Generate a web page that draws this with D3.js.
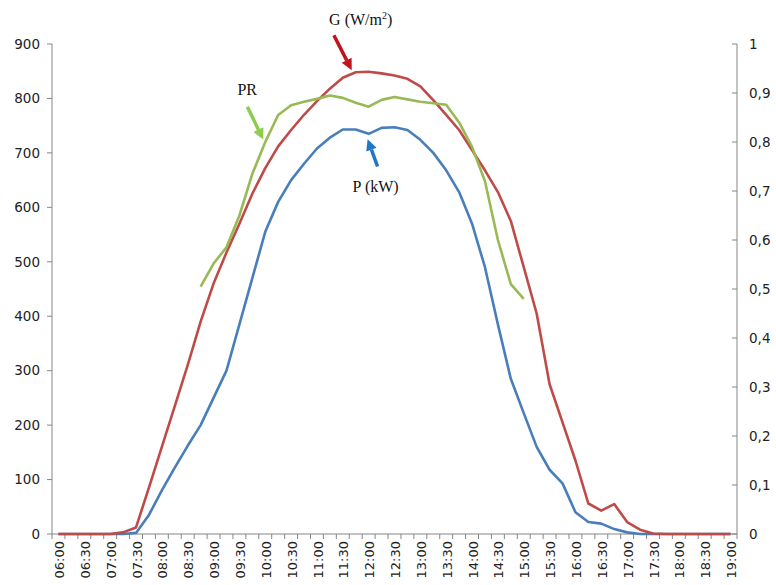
<!DOCTYPE html>
<html lang="en"><head>
<meta charset="utf-8">
<title>G, P and PR</title>
<script src="https://cdnjs.cloudflare.com/ajax/libs/d3/7.8.5/d3.min.js" charset="utf-8"></script>
<style type="text/css">
  body{
    margin:0;
    background:#fff;
  }
  .axis-text{
    font-family: "DejaVu Sans", Verdana, sans-serif;
    font-size: 13.5px;
    fill: #222;
  }
  .note{
    font-family: "Liberation Serif", "Times New Roman", serif;
    font-size: 16px;
    fill: #111;
  }
</style>
</head>
<body>
<svg class="chart" width="776" height="585"></svg>
<script>
// 15 minute steps, 06:00 .. 19:00
var times = ["06:00","06:15","06:30","06:45","07:00","07:15","07:30","07:45","08:00","08:15",
  "08:30","08:45","09:00","09:15","09:30","09:45","10:00","10:15","10:30","10:45",
  "11:00","11:15","11:30","11:45","12:00","12:15","12:30","12:45","13:00","13:15",
  "13:30","13:45","14:00","14:15","14:30","14:45","15:00","15:15","15:30","15:45",
  "16:00","16:15","16:30","16:45","17:00","17:15","17:30","17:45","18:00","18:15",
  "18:30","18:45","19:00"]

// irradiance G (W/m2), left axis
var irradiance = [0,0,0,0,0,3,12,85,160,235,
  310,390,460,517,570,625,672,712,742,770,
  795,818,838,848,849,846,842,836,822,797,
  770,742,705,668,628,575,490,405,275,205,
  135,56,43,55,22,8,1,0,0,0,
  0,0,0]

// power P (kW), left axis
var power = [0,0,0,0,0,0,2,35,80,122,
  162,200,250,300,385,470,555,610,650,680,
  708,728,743,743,735,746,747,742,724,700,
  668,628,570,490,385,285,222,160,118,93,
  40,22,19,9,3,0,0,0,0,0,
  0,0,0]

// performance ratio PR, right axis
var ratio = [null,null,null,null,null,null,null,null,null,null,
  null,0.505,0.552,0.585,0.65,0.735,0.80,0.855,0.875,0.882,
  0.888,0.895,0.89,0.88,0.872,0.886,0.892,0.887,0.882,0.879,
  0.876,0.84,0.79,0.72,0.60,0.51,0.48,null,null,null,
  null,null,null,null,null,null,null,null,null,null,
  null,null,null]

var leftTicks = [0,100,200,300,400,500,600,700,800,900]
var rightTicks = [0,0.1,0.2,0.3,0.4,0.5,0.6,0.7,0.8,0.9,1]

var svg = d3.select('.chart')
var plotLeft = 52, plotRight = 737, plotTop = 44, plotBottom = 534

var x = d3.scaleBand().domain(times).range([plotLeft, plotRight])
var yL = d3.scaleLinear().domain([0, 900]).range([plotBottom, plotTop])
var yR = d3.scaleLinear().domain([0, 1]).range([plotBottom, plotTop])
var cx = function(t){ return x(t) + x.bandwidth() / 2 }

// axes
var axisColor = "#868686"
var xAxis = svg.append("g")
xAxis.append("line")
  .attr("x1", plotLeft).attr("x2", plotRight)
  .attr("y1", plotBottom).attr("y2", plotBottom)
  .attr("stroke", axisColor)
xAxis.selectAll(".xtick")
  .data(times.concat(["end"]))
  .enter().append("line")
  .attr("x1", function(d, i){ return plotLeft + i * x.bandwidth() })
  .attr("x2", function(d, i){ return plotLeft + i * x.bandwidth() })
  .attr("y1", plotBottom).attr("y2", plotBottom + 5)
  .attr("stroke", axisColor)
xAxis.selectAll(".xlabel")
  .data(times.filter(function(d, i){ return i % 2 == 0 }))
  .enter().append("text")
  .attr("class", "axis-text")
  .attr("transform", function(d){ return "translate(" + (cx(d) + 1) + "," + (plotBottom + 7) + ") rotate(-90)" })
  .attr("text-anchor", "end")
  .attr("dy", "0.35em")
  .style("font-size", "13px")
  .text(function(d){ return d })

var lAxis = svg.append("g")
lAxis.append("line")
  .attr("x1", plotLeft).attr("x2", plotLeft)
  .attr("y1", plotTop).attr("y2", plotBottom)
  .attr("stroke", axisColor)
lAxis.selectAll(".ltick")
  .data(leftTicks)
  .enter().append("line")
  .attr("x1", plotLeft - 5).attr("x2", plotLeft)
  .attr("y1", function(d){ return yL(d) }).attr("y2", function(d){ return yL(d) })
  .attr("stroke", axisColor)
lAxis.selectAll(".llabel")
  .data(leftTicks)
  .enter().append("text")
  .attr("class", "axis-text")
  .attr("x", plotLeft - 12)
  .attr("y", function(d){ return yL(d) })
  .attr("dy", "0.35em")
  .attr("text-anchor", "end")
  .text(function(d){ return d })

var rAxis = svg.append("g")
rAxis.append("line")
  .attr("x1", plotRight).attr("x2", plotRight)
  .attr("y1", plotTop).attr("y2", plotBottom)
  .attr("stroke", axisColor)
rAxis.selectAll(".rtick")
  .data(rightTicks)
  .enter().append("line")
  .attr("x1", plotRight - 5).attr("x2", plotRight)
  .attr("y1", function(d){ return yR(d) }).attr("y2", function(d){ return yR(d) })
  .attr("stroke", axisColor)
rAxis.selectAll(".rlabel")
  .data(rightTicks)
  .enter().append("text")
  .attr("class", "axis-text")
  .attr("x", plotRight + 12)
  .attr("y", function(d){ return yR(d) })
  .attr("dy", "0.35em")
  .text(function(d){ return String(d).replace(".", ",") })

// series
function drawLine(values, scale, color) {
  var line = d3.line()
    .defined(function(d){ return d != null })
    .x(function(d, i){ return cx(times[i]) })
    .y(function(d){ return scale(d) })
  svg.append("path")
    .datum(values)
    .attr("d", line)
    .attr("fill", "none")
    .attr("stroke", color)
    .attr("stroke-width", 2.6)
    .attr("stroke-linejoin", "round")
}
drawLine(power, yL, "#4a7ebb")
drawLine(irradiance, yL, "#be4b48")
drawLine(ratio, yR, "#98b954")

// labels with arrows, placed in time/value units
function arrow(x1, y1, x2, y2, color) {
  var a = Math.atan2(y2 - y1, x2 - x1), len = 11, w = 5.5
  var bx = x2 - len * Math.cos(a), by = y2 - len * Math.sin(a)
  svg.append("line")
    .attr("x1", x1).attr("y1", y1).attr("x2", bx).attr("y2", by)
    .attr("stroke", color).attr("stroke-width", 3.5)
  svg.append("path")
    .attr("d", "M" + x2 + "," + y2 +
      "L" + (bx + w * Math.sin(a)) + "," + (by - w * Math.cos(a)) +
      "L" + (bx - w * Math.sin(a)) + "," + (by + w * Math.cos(a)) + "Z")
    .attr("fill", color)
}

svg.append("text").attr("class", "note")
  .attr("x", cx("11:45") + 5).attr("y", yL(935))
  .attr("text-anchor", "middle")
  .html("G (W/m<tspan dy='-6' font-size='10'>2</tspan><tspan dy='6'>)</tspan>")
arrow(cx("11:15") + 4, yL(916), cx("11:45") - 4, yL(852), "#c0141c")

svg.append("text").attr("class", "note")
  .attr("x", cx("10:00") - 18).attr("y", yR(0.895))
  .attr("text-anchor", "middle")
  .text("PR")
arrow(cx("09:45") - 5, yR(0.872), cx("10:00") - 2, yR(0.805), "#8ccd4c")

svg.append("text").attr("class", "note")
  .attr("x", cx("12:00") + 7).attr("y", yL(628))
  .attr("text-anchor", "middle")
  .text("P (kW)")
arrow(cx("12:15") - 4, yL(675), cx("12:00") - 1, yL(725), "#1f77c8")
</script>
</body></html>
